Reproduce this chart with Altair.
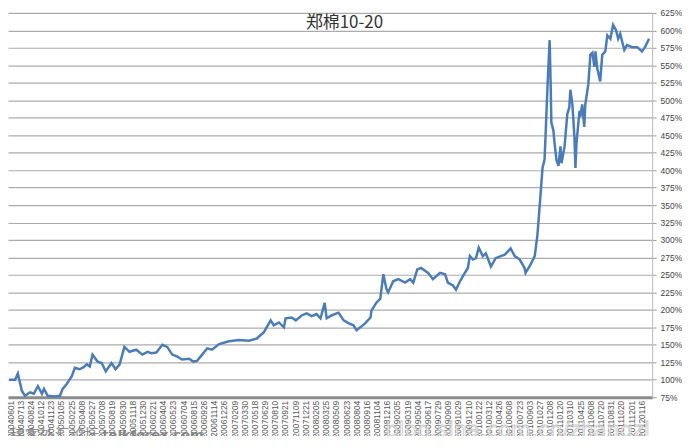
import json
import altair as alt
import pandas as pd

# trading-day index and cumulative value in %
days = [0, 18, 26, 38, 47, 62, 73, 85, 97, 103, 114, 135, 150, 158, 170, 185, 194, 208, 220, 229,
        238, 246, 261, 273, 285, 302, 314, 326, 340, 355, 375, 393, 408, 419, 434, 452, 466, 481, 496, 510,
        531, 543, 554, 569, 584, 598, 619, 648, 678, 707, 730, 751, 771, 780, 795, 810, 815, 833, 845, 862,
        877, 892, 906, 918, 930, 936, 950, 971, 986, 1000, 1015, 1024, 1035, 1050, 1065, 1068, 1082, 1094, 1103, 1112,
        1117, 1132, 1147, 1167, 1182, 1191, 1203, 1214, 1235, 1249, 1270, 1285, 1293, 1308, 1317, 1329, 1337, 1352, 1358, 1367,
        1376, 1384, 1396, 1405, 1420, 1434, 1449, 1461, 1478, 1490, 1505, 1519, 1522, 1537, 1549, 1557, 1566, 1572, 1578, 1581,
        1587, 1593, 1596, 1598, 1604, 1607, 1613, 1619, 1625, 1628, 1637, 1645, 1651, 1654, 1660, 1666, 1669, 1672, 1681, 1683,
        1689, 1695, 1698, 1707, 1713, 1719, 1725, 1728, 1733, 1742, 1748, 1757, 1763, 1772, 1780, 1789, 1795, 1801, 1813, 1821,
        1836, 1851, 1865, 1874, 1886]
values = [100, 100, 109, 84, 77, 82, 80, 91, 80, 87, 77, 76, 77, 87, 94, 105, 117, 115, 118, 122,
          119, 136, 126, 124, 112, 124, 115, 122, 147, 140, 143, 136, 140, 138, 139, 150, 147, 136, 133, 129,
          130, 126, 127, 136, 145, 143, 151, 155, 157, 156, 159, 168, 185, 178, 182, 175, 188, 189, 185, 192,
          195, 191, 194, 188, 210, 188, 192, 196, 185, 181, 178, 171, 175, 181, 189, 199, 210, 216, 251, 230,
          225, 241, 244, 239, 244, 239, 258, 260, 253, 244, 253, 251, 239, 235, 229, 241, 248, 260, 277, 272,
          274, 289, 277, 281, 262, 274, 277, 279, 288, 277, 272, 260, 253, 265, 277, 307, 364, 403, 415, 450,
          523, 586, 523, 468, 457, 441, 415, 406, 434, 410, 434, 480, 490, 515, 494, 448, 403, 438, 485, 476,
          494, 462, 494, 523, 565, 568, 548, 570, 546, 527, 565, 570, 593, 588, 608, 600, 588, 595, 572, 579,
          576, 576, 570, 576, 588]

date_labels = ["20040601", "20040713", "20040824", "20041012", "20041123", "20050105", "20050225",
               "20050408", "20050527", "20050708", "20050819", "20050930", "20051118", "20051230",
               "20060221", "20060404", "20060523", "20060704", "20060815", "20060926", "20061114",
               "20061226", "20070209", "20070330", "20070518", "20070629", "20070810", "20070921",
               "20071109", "20071221", "20080205", "20080325", "20080509", "20080623", "20080804",
               "20080916", "20081104", "20081216", "20090205", "20090319", "20090504", "20090617",
               "20090729", "20090909", "20091029", "20091210", "20100122", "20100312", "20100426",
               "20100608", "20100723", "20100903", "20101027", "20101208", "20110120", "20110310",
               "20110425", "20110608", "20110720", "20110831", "20111020", "20111201", "20120116"]
label_days = [3 + 30 * i for i in range(len(date_labels))]
y_ticks = list(range(75, 626, 25))

title_text = "郑棉10-20"
watermark_cn = "稿客外汇论坛"
watermark_en = "talkforex.com"
watermark_blog = "blog.sina.com.cn/zhangzi"

df = pd.DataFrame({"day": days, "value": values})

label_expr = json.dumps(date_labels) + "[round((datum.value - 3) / 30)]"

line = alt.Chart(df).mark_line(color="#4a7cb8", strokeWidth=2.5).encode(
    x=alt.X("day:Q", scale=alt.Scale(domain=[-3, 1895], nice=False, zero=False),
            axis=alt.Axis(values=label_days, labelExpr=label_expr, labelAngle=-90,
                          labelAlign="right", labelBaseline="middle", labelFont="Liberation Sans",
                          labelFontSize=8.5, labelColor="#555555", labelPadding=3,
                          labelOverlap=False, labelFlush=False, labelBound=False,
                          ticks=False, grid=False, title=None,
                          domainColor="#8c8c8c", domainWidth=3)),
    y=alt.Y("value:Q", scale=alt.Scale(domain=[75, 625], nice=False, zero=False),
            axis=alt.Axis(orient="right", values=y_ticks, labelExpr="datum.value + '%'",
                          labelFont="Liberation Sans", labelFontSize=8.5, labelColor="#444444",
                          labelPadding=4, tickSize=4, tickColor="#999999",
                          domainColor="#bbbbbb", grid=True, gridColor="#ababab", gridWidth=1.2,
                          gridOpacity=1, title=None, labelFlush=False)),
)

title = alt.Chart(pd.DataFrame({"t": [title_text]})).mark_text(
    font="Noto Sans CJK SC", fontSize=17, color="#333333", align="center", baseline="middle"
).encode(text="t:N", x=alt.value(338), y=alt.value(10))

wm1 = alt.Chart(pd.DataFrame({"t": [watermark_cn]})).mark_text(
    font="Noto Sans CJK SC", fontSize=15, color="#7a7a7a", align="left", baseline="middle",
    opacity=0.85
).encode(text="t:N", x=alt.value(2), y=alt.value(424))

wm2 = alt.Chart(pd.DataFrame({"t": [watermark_en]})).mark_text(
    font="DejaVu Sans", fontSize=13, fontWeight="bold", color="#7a7a7a", align="left",
    baseline="middle", opacity=0.85
).encode(text="t:N", x=alt.value(95), y=alt.value(424))

wm3 = alt.Chart(pd.DataFrame({"t": [watermark_blog]})).mark_text(
    font="DejaVu Sans", fontSize=21, color="#ffffff", stroke="#b5b5b5", strokeWidth=0.8,
    align="left", baseline="middle", opacity=0.75
).encode(text="t:N", x=alt.value(379), y=alt.value(420))

chart = alt.layer(line, title, wm1, wm2, wm3).properties(
    width=647, height=386,
    autosize=alt.AutoSizeParams(type="none"),
    padding={"left": 0, "top": 4, "right": 30, "bottom": 38},
).configure_view(stroke=None)

chart.save("out.html", embed_options={"renderer": "svg", "actions": False})
